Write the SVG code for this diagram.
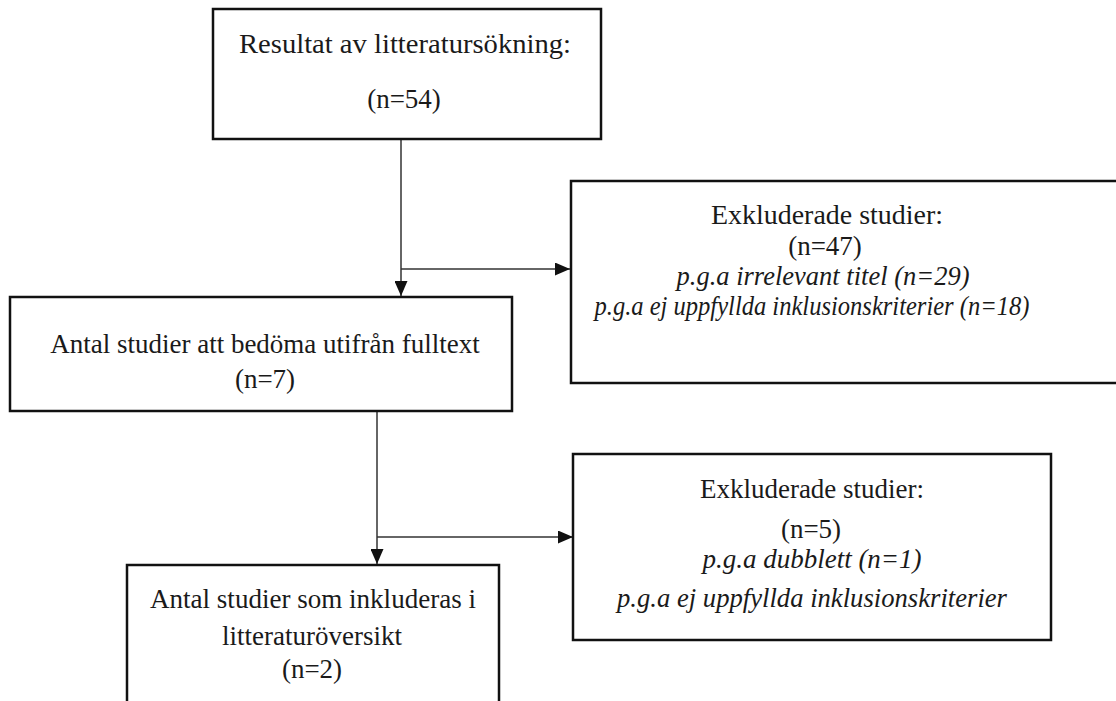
<svg xmlns="http://www.w3.org/2000/svg" width="1116" height="701" viewBox="0 0 1116 701">
  <style>
    .box { fill: #ffffff; stroke: #111111; stroke-width: 2.5; }
    .t { font-family: "Liberation Serif", "DejaVu Serif", serif; fill: #1a1a1a; text-anchor: middle; font-size: 27px; }
    .it { font-style: italic; }
    .conn { fill: none; stroke: #333333; stroke-width: 1.5; }
  </style>
  <defs>
    <marker id="arrow" markerUnits="userSpaceOnUse" markerWidth="15" markerHeight="13" refX="15" refY="6.5" orient="auto">
      <path d="M0,0 L15,6.5 L0,13 z" fill="#111111"/>
    </marker>
  </defs>
  <rect width="1116" height="701" fill="#ffffff"/>

  <g id="connectors">
    <path class="conn" d="M401,140 V296" marker-end="url(#arrow)"/>
    <path class="conn" d="M401,269 H570" marker-end="url(#arrow)"/>
    <path class="conn" d="M377,412 V564" marker-end="url(#arrow)"/>
    <path class="conn" d="M377,537 H573" marker-end="url(#arrow)"/>
  </g>

  <g id="node-search">
    <rect class="box" x="213" y="9" width="388" height="130"/>
    <text class="t" x="405" y="53" font-size="29" textLength="332" lengthAdjust="spacingAndGlyphs">Resultat av litteratursökning:</text>
    <text class="t" x="404" y="108" font-size="29">(n=54)</text>
  </g>

  <g id="node-excluded-1">
    <rect class="box" x="571" y="181" width="560" height="202"/>
    <text class="t" x="827" y="224" font-size="28" textLength="232" lengthAdjust="spacingAndGlyphs">Exkluderade studier:</text>
    <text class="t" x="825" y="255" font-size="28">(n=47)</text>
    <text class="t it" x="823" y="285" font-size="25" textLength="293" lengthAdjust="spacingAndGlyphs">p.g.a irrelevant titel (n=29)</text>
    <text class="t it" x="812" y="315" font-size="25" textLength="435" lengthAdjust="spacingAndGlyphs">p.g.a ej uppfyllda inklusionskriterier (n=18)</text>
  </g>

  <g id="node-fulltext">
    <rect class="box" x="10" y="297" width="502" height="114"/>
    <text class="t" x="265" y="353" font-size="27">Antal studier att bedöma utifrån fulltext</text>
    <text class="t" x="265" y="388" font-size="27">(n=7)</text>
  </g>

  <g id="node-excluded-2">
    <rect class="box" x="573" y="454" width="478" height="186"/>
    <text class="t" x="812" y="498" font-size="27">Exkluderade studier:</text>
    <text class="t" x="811" y="538" font-size="27">(n=5)</text>
    <text class="t it" x="812" y="568" font-size="27">p.g.a dubblett (n=1)</text>
    <text class="t it" x="812" y="607" font-size="27" textLength="390" lengthAdjust="spacingAndGlyphs">p.g.a ej uppfyllda inklusionskriterier</text>
  </g>

  <g id="node-included">
    <rect class="box" x="127" y="565" width="372" height="150"/>
    <text class="t" x="313" y="608" font-size="27" textLength="326" lengthAdjust="spacingAndGlyphs">Antal studier som inkluderas i</text>
    <text class="t" x="312" y="645" font-size="27">litteraturöversikt</text>
    <text class="t" x="312" y="678" font-size="27">(n=2)</text>
  </g>
</svg>
